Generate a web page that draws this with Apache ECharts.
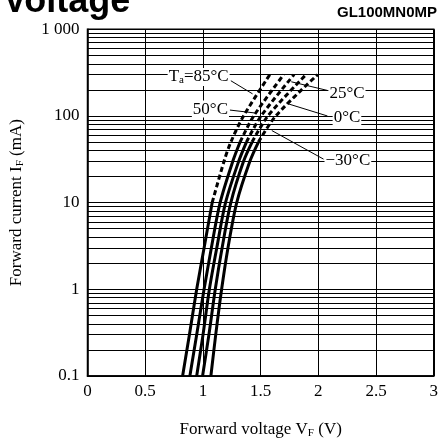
<!DOCTYPE html>
<html><head><meta charset="utf-8">
<script src="https://cdn.jsdelivr.net/npm/echarts@6/dist/echarts.min.js"></script>
<style>html,body{margin:0;padding:0;background:#fff}#c{width:441px;height:444px}</style>
</head><body><div id="c"></div>
<script>
// Forward current sample points (mA)
const currents = [0.1, 0.3, 1, 3, 10, 30, 50, 100, 300];
// Forward voltage (V) for each temperature at those currents
const vf85  = [0.824, 0.883, 0.946, 1.010, 1.080, 1.183, 1.242, 1.352, 1.580];
const vf50  = [0.887, 0.946, 1.010, 1.073, 1.149, 1.259, 1.322, 1.440, 1.700];
const vf25  = [0.946, 1.001, 1.056, 1.120, 1.196, 1.310, 1.377, 1.504, 1.790];
const vf0   = [0.997, 1.052, 1.107, 1.166, 1.242, 1.352, 1.426, 1.563, 1.893];
const vfm30 = [1.069, 1.111, 1.162, 1.217, 1.293, 1.407, 1.481, 1.631, 1.994];
// current above which each curve is drawn dashed
const dashFrom = [10, 50, 50, 50, 50];
const curves = [vf85, vf50, vf25, vf0, vfm30];
const xTicks = [0, 0.5, 1, 1.5, 2, 2.5, 3];
const yTicks = [0.1, 1, 10, 100, 1000];
const yTickLabels = {0.1: '0.1', 1: '1', 10: '10', 100: '100', 1000: '1 000'};

const serif = 'Liberation Serif';
const minorLines = [];
[0.1, 1, 10, 100].forEach(d => { for (let m = 2; m <= 9; m++) minorLines.push({yAxis: +(d * m).toPrecision(3)}); });

const series = [];
curves.forEach((vf, k) => {
  const pts = vf.map((v, i) => [v, currents[i]]);
  const solid = pts.filter(p => p[1] <= dashFrom[k]);
  const dashed = pts.filter(p => p[1] >= dashFrom[k]);
  series.push({type: 'line', data: solid, smooth: 0.3, symbol: 'none', lineStyle: {color: '#000', width: 3}, z: 5});
  series.push({type: 'line', data: dashed, smooth: 0.3, symbol: 'none', lineStyle: {color: '#000', width: 3, type: [5, 3]}, z: 5});
});
series.push({type: 'line', data: [], markLine: {silent: true, symbol: 'none', label: {show: false},
  lineStyle: {color: '#000', width: 1, type: 'solid'}, data: minorLines, animation: false}});

const nameStyle = {fontFamily: serif, fontSize: 17, color: '#000',
  rich: {i: {fontFamily: serif, fontSize: 17, color: '#000'},
         s: {fontFamily: serif, fontSize: 11, color: '#000', padding: [7, 0, 0, 0]}}};

const chart = echarts.init(document.getElementById('c'), null, {renderer: 'canvas'});
chart.setOption({
  animation: false,
  backgroundColor: '#fff',
  grid: {left: 81, right: 5, top: 29.3, bottom: 59.7, show: true, borderColor: '#000', borderWidth: 1.5},
  xAxis: {type: 'value', min: 0, max: 3, interval: 0.5,
    name: 'Forward voltage {i|V}{s|F} (V)', nameLocation: 'middle', nameGap: 45,
    nameTextStyle: nameStyle,
    axisLine: {lineStyle: {color: '#000', width: 1.5}}, axisTick: {show: false},
    axisLabel: {fontFamily: serif, fontSize: 17, color: '#000', margin: 7},
    splitLine: {show: true, lineStyle: {color: '#000', width: 1}}},
  yAxis: {type: 'log', logBase: 10, min: 0.1, max: 1000,
    name: 'Forward current {i|I}{s|F} (mA)', nameLocation: 'middle', nameGap: 62, nameRotate: 90,
    nameTextStyle: nameStyle,
    axisLine: {lineStyle: {color: '#000', width: 1.5}}, axisTick: {show: false},
    axisLabel: {fontFamily: serif, fontSize: 17, color: '#000', margin: 8,
      formatter: v => yTickLabels[v] !== undefined ? yTickLabels[v] : ''},
    splitLine: {show: true, lineStyle: {color: '#000', width: 1}}},
  series: series
});

// annotation: label centre, pointer start, pointer end (data coords)
const notes = [
  {t: 'T{s|a}=85°C', c: [0.963, 282], p: [[1.242, 255], [1.43, 180]]},
  {t: '50°C', c: [1.065, 120], p: [[1.234, 117], [1.445, 108.5]]},
  {t: '25°C', c: [2.248, 181.5], p: [[1.766, 248], [2.079, 197]]},
  {t: '0°C', c: [2.248, 94.9], p: [[1.724, 140], [2.079, 100]]},
  {t: '−30°C', c: [2.256, 31], p: [[1.597, 67.9], [2.045, 31.8]]}
];
const px = p => chart.convertToPixel({gridIndex: 0}, p);
const g = [];
notes.forEach(n => {
  const a = px(n.p[0]), b = px(n.p[1]);
  g.push({type: 'line', shape: {x1: a[0], y1: a[1], x2: b[0], y2: b[1]}, style: {stroke: '#000', lineWidth: 1}, z: 20});
  const c = px(n.c);
  g.push({type: 'text', x: c[0], y: c[1], z: 21, style: {text: n.t, fill: '#000', font: '17px "Liberation Serif"',
    align: 'center', verticalAlign: 'middle', backgroundColor: '#fff', padding: [0, 1],
    rich: {s: {fontFamily: serif, fontSize: 11, padding: [7, 0, 0, 0], fill: '#000'}}}});
});
g.push({type: 'text', x: 3, y: 2, style: {text: 'Voltage', font: 'bold 36px "Liberation Sans"', fill: '#000', verticalAlign: 'middle'}});
g.push({type: 'text', x: 437, y: 13, style: {text: 'GL100MN0MP', font: 'bold 15px "Liberation Sans"', fill: '#000', align: 'right', verticalAlign: 'middle'}});
chart.setOption({graphic: g});
</script></body></html>
